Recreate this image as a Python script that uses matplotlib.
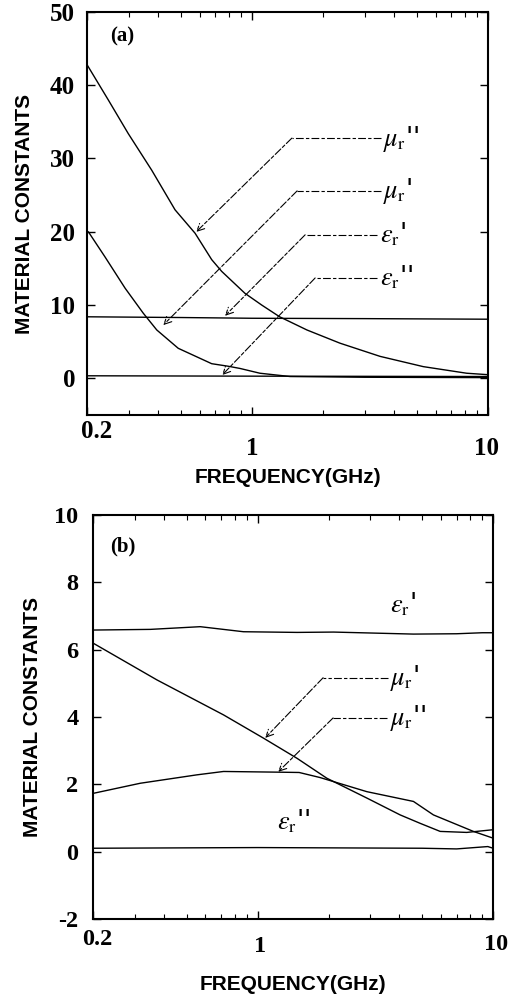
import numpy as np
import matplotlib
matplotlib.use("Agg")
import matplotlib.pyplot as plt
import matplotlib.transforms as mtransforms
from matplotlib.ticker import FixedLocator, NullFormatter, LogLocator

plt.rcParams['mathtext.fontset'] = 'stix'

# ---------------- data: panel (a) ----------------
freq_a_mu2 = [0.2, 0.2026, 0.246, 0.299, 0.376, 0.472, 0.574, 0.675, 0.744, 0.934,
              1.10, 1.31, 1.71, 2.36, 3.49, 5.32, 8.12, 10]
mu2_a = [42.8, 42.5, 38.0, 33.4, 28.4, 23.0, 19.8, 16.2, 14.6, 11.6,
         10.0, 8.4, 6.6, 4.8, 3.0, 1.6, 0.7, 0.5]
freq_a_mu1 = [0.2, 0.2026, 0.238, 0.290, 0.346, 0.395, 0.487, 0.675, 0.794, 0.89,
              1.08, 1.45, 3.0, 10]
mu1_a = [20.0, 20.0, 16.6, 12.3, 8.9, 6.6, 4.1, 2.0, 1.65, 1.35,
         0.7, 0.25, 0.15, 0.1]
freq_a_eps1 = [0.2, 0.5, 1.0, 3.0, 10]
eps1_a = [8.4, 8.3, 8.2, 8.15, 8.07]
freq_a_eps2 = [0.2, 1.0, 10]
eps2_a = [0.35, 0.3, 0.25]

# ---------------- data: panel (b) ----------------
freq_b_eps1 = [0.2, 0.35, 0.57, 0.87, 1.47, 2.1, 4.59, 7.0, 9.0, 10]
eps1_b = [6.58, 6.6, 6.68, 6.53, 6.51, 6.52, 6.46, 6.47, 6.5, 6.5]
freq_b_mu1 = [0.2, 0.373, 0.716, 1.058, 1.47, 1.966, 2.91, 4.03, 4.9, 5.96, 7.73, 10]
mu1_b = [6.19, 5.10, 4.06, 3.37, 2.77, 2.18, 1.59, 1.09, 0.84, 0.6, 0.57, 0.65]
freq_b_mu2 = [0.2, 0.317, 0.552, 0.716, 1.205, 1.5, 1.84, 2.91, 4.59, 5.58, 8.25, 10]
mu2_b = [1.73, 2.03, 2.28, 2.38, 2.36, 2.35, 2.2, 1.78, 1.49, 1.09, 0.6, 0.4]
freq_b_eps2 = [0.2, 1.0, 5.0, 7.0, 9.5, 10]
eps2_b = [0.1, 0.12, 0.1, 0.08, 0.15, 0.1]

xticks = [0.2, 1, 10]
xticklabels = ["0.2", "1", "10"]
yticks_a = [0, 10, 20, 30, 40, 50]
yticks_b = [-2, 0, 2, 4, 6, 8, 10]

lab_mu2 = r"$\mu_{\mathrm{r}}$''"
lab_mu1 = r"$\mu_{\mathrm{r}}$'"
lab_eps1 = r"$\varepsilon_{\mathrm{r}}$'"
lab_eps2 = r"$\varepsilon_{\mathrm{r}}$''"

serif = ['Liberation Serif', 'DejaVu Serif']
sans = ['Liberation Sans', 'DejaVu Sans']

fig = plt.figure(figsize=(5.12, 9.94), dpi=100)
ax1 = fig.add_axes([0.170, 0.5825, 0.783, 0.4055])
ax2 = fig.add_axes([0.182, 0.0755, 0.781, 0.4065])

lw = 1.0
ax1.plot(freq_a_mu2, mu2_a, color='black', lw=lw)
ax1.plot(freq_a_mu1, mu1_a, color='black', lw=lw)
ax1.plot(freq_a_eps1, eps1_a, color='black', lw=lw)
ax1.plot(freq_a_eps2, eps2_a, color='black', lw=lw)

ax2.plot(freq_b_eps1, eps1_b, color='black', lw=lw)
ax2.plot(freq_b_mu1, mu1_b, color='black', lw=lw)
ax2.plot(freq_b_mu2, mu2_b, color='black', lw=lw)
ax2.plot(freq_b_eps2, eps2_b, color='black', lw=lw)


def style(ax, ylim, yticks, xlabel_y, ylabel_x, ypad, fs, xlab_pos):
    ax.set_xscale('log')
    ax.set_xlim(0.2, 10)
    ax.set_ylim(*ylim)
    ax.xaxis.set_major_locator(FixedLocator(xticks))
    ax.xaxis.set_minor_locator(LogLocator(base=10, subs=np.arange(2, 10)))
    ax.xaxis.set_minor_formatter(NullFormatter())
    ax.set_yticks(yticks)
    ax.set_yticklabels([str(v) for v in yticks])
    ax.tick_params(which='both', direction='in', top=True, right=True)
    ax.tick_params(which='major', length=6, width=1.0)
    ax.tick_params(which='minor', length=3.5, width=0.8)
    ax.tick_params(axis='y', pad=ypad)
    ax.tick_params(axis='x', labelbottom=False)
    for t in ax.get_yticklabels():
        t.set_fontfamily(serif)
        t.set_fontweight('bold')
        t.set_fontsize(fs)
    # x tick labels, placed individually as in the scanned original
    trans = mtransforms.blended_transform_factory(ax.transData, ax.transAxes)
    for val, lab, (dx, fy) in zip(xticks, xticklabels, xlab_pos):
        off = mtransforms.ScaledTranslation(dx / 100.0, 0, fig.dpi_scale_trans)
        ax.text(val, fy, lab, transform=trans + off, ha='center', va='center',
                fontsize=fs, fontweight='bold', family=serif)
    for s in ax.spines.values():
        s.set_linewidth(1.5)
    ax.set_xlabel("FREQUENCY(GHz)", fontsize=15, fontweight='bold', family=sans)
    ax.set_ylabel("MATERIAL CONSTANTS", fontsize=15, fontweight='bold', family=sans)
    ax.xaxis.set_label_coords(0.5, xlabel_y)
    ax.yaxis.set_label_coords(ylabel_x, 0.5)


style(ax1, (-5, 50), yticks_a, -0.132, -0.132, 8.5, 18,
      [(10, -0.040), (0, -0.084), (-1, -0.082)])
style(ax2, (-2, 10), yticks_b, -0.139, -0.128, 10.5, 17.5,
      [(4, -0.050), (2, -0.067), (3, -0.064)])

ax1.text(0.057, 0.938, "(a)", transform=ax1.transAxes, fontsize=15,
         fontweight='bold', family=serif, ha='left', va='center')
ax2.text(0.043, 0.921, "(b)", transform=ax2.transAxes, fontsize=15,
         fontweight='bold', family=serif, ha='left', va='center')

dash = (0, (7, 2, 3, 2))
arrow = dict(arrowstyle='->', color='black', lw=0.8, linestyle=dash,
             shrinkA=0, shrinkB=0, mutation_scale=13)


def callout(ax, label, lx, ly, x0, x1, y, tx, ty):
    ax.text(lx, ly, label, transform=ax.transAxes, fontsize=19,
            ha='left', va='center')
    if x0 is not None:
        ax.plot([x0, x1], [y, y], transform=ax.transAxes, color='black',
                lw=0.8, linestyle=dash)
        ax.annotate("", xy=(tx, ty), xycoords='axes fraction',
                    xytext=(x1, y), textcoords='axes fraction',
                    arrowprops=arrow)


callout(ax1, lab_mu2, 0.738, 0.685, 0.733, 0.511, 0.687, 0.272, 0.454)
callout(ax1, lab_mu1, 0.738, 0.555, 0.733, 0.524, 0.556, 0.190, 0.223)
callout(ax1, lab_eps1, 0.730, 0.447, 0.723, 0.544, 0.447, 0.344, 0.246)
callout(ax1, lab_eps2, 0.730, 0.340, 0.723, 0.569, 0.340, 0.337, 0.099)

callout(ax2, lab_eps1, 0.742, 0.779, None, None, None, None, None)
callout(ax2, lab_mu1, 0.742, 0.597, 0.7375, 0.575, 0.597, 0.430, 0.448)
callout(ax2, lab_mu2, 0.742, 0.497, 0.735, 0.600, 0.4975, 0.4625, 0.364)
callout(ax2, lab_eps2, 0.460, 0.242, None, None, None, None, None)

fig.savefig("out.png", dpi=100)
